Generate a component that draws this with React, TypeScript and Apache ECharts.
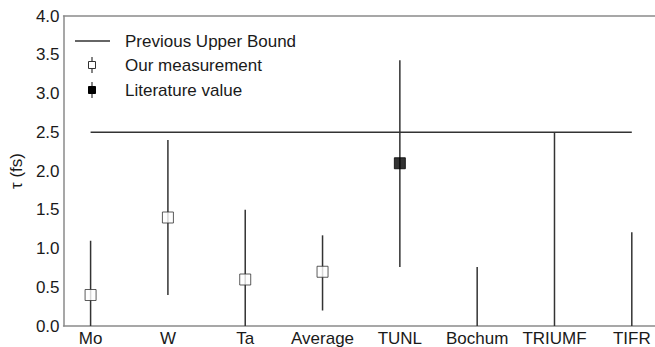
import React, { useEffect, useRef } from "react";
import * as echarts from "echarts";

const categories = ["Mo", "W", "Ta", "Average", "TUNL", "Bochum", "TRIUMF", "TIFR"];
// [index, value]
const ourValues = [
  [0, 0.4],
  [1, 1.4],
  [2, 0.6],
  [3, 0.7],
];
const literatureValues = [[4, 2.1]];
// [index, lower, upper]
const errorRanges = [
  [0, 0.0, 1.1],
  [1, 0.4, 2.4],
  [2, 0.0, 1.5],
  [3, 0.2, 1.17],
  [4, 0.76, 3.43],
  [5, 0.0, 0.76],
  [6, 0.0, 2.5],
  [7, 0.0, 1.21],
];
const upperBound = [
  [0, 2.5],
  [7, 2.5],
];
const yTicks = [0, 0.5, 1, 1.5, 2, 2.5, 3, 3.5, 4];

const FONT = "Liberation Sans, Arial, sans-serif";
const DARK = "#333333";
const SPINE = "#8a8a8a";
const TEXT = "#1a1a1a";

export default function App() {
  const ref = useRef<HTMLDivElement>(null);
  useEffect(() => {
    if (!ref.current) return;
    const chart = echarts.init(ref.current, null, { renderer: "svg" });
    chart.setOption({
      animation: false,
      backgroundColor: "#ffffff",
      grid: { left: 59, top: 16, right: 0, bottom: 20, containLabel: false },
      xAxis: [
        {
          type: "value",
          min: -0.35,
          max: 7.3,
          interval: 0.05,
          splitLine: { show: false },
          axisTick: { show: false },
          axisLine: { show: true, onZero: false, lineStyle: { color: SPINE, width: 1.5 } },
          axisLabel: {
            customValues: categories.map((_, i) => i),
            formatter: (v: number) => categories[Math.round(v)] ?? "",
            color: TEXT,
            fontSize: 17,
            fontFamily: FONT,
            margin: 4,
          },
        },
        {
          type: "value",
          position: "top",
          min: -0.35,
          max: 7.3,
          interval: 0.05,
          splitLine: { show: false },
          axisTick: { show: false },
          axisLabel: { show: false },
          axisLine: { show: true, onZero: false, lineStyle: { color: SPINE, width: 1.5 } },
        },
      ],
      yAxis: {
        type: "value",
        min: 0,
        max: 4,
        interval: 0.5,
        name: "τ (fs)",
        nameLocation: "middle",
        nameGap: 38,
        nameTextStyle: { color: TEXT, fontSize: 17, fontFamily: FONT },
        splitLine: { show: false },
        axisTick: { show: false },
        axisLine: { show: true, onZero: false, lineStyle: { color: SPINE, width: 1.5 } },
        axisLabel: {
          customValues: yTicks,
          formatter: (v: number) => v.toFixed(1),
          color: TEXT,
          fontSize: 17,
          fontFamily: FONT,
          margin: 4,
        },
      },
      series: [
        {
          type: "line",
          data: upperBound,
          symbol: "none",
          lineStyle: { color: DARK, width: 1.5 },
          z: 2,
        },
        {
          type: "custom",
          data: errorRanges,
          renderItem: (params: any, api: any) => {
            const x = api.value(0);
            const p1 = api.coord([x, api.value(1)]);
            const p2 = api.coord([x, api.value(2)]);
            return {
              type: "line",
              shape: { x1: p1[0], y1: p1[1], x2: p2[0], y2: p2[1] },
              style: { stroke: DARK, lineWidth: 1.5 },
            };
          },
          z: 3,
        },
        {
          type: "scatter",
          data: ourValues,
          symbol: "rect",
          symbolSize: 11,
          itemStyle: { color: "#ffffff", borderColor: DARK, borderWidth: 1 },
          z: 5,
        },
        {
          type: "scatter",
          data: literatureValues,
          symbol: "rect",
          symbolSize: 11,
          itemStyle: { color: "#000000", borderColor: "#000000", borderWidth: 1 },
          z: 5,
        },
      ],
      graphic: [
        {
          type: "line",
          shape: { x1: 75, y1: 41, x2: 110, y2: 41 },
          style: { stroke: DARK, lineWidth: 1.5 },
        },
        {
          type: "text",
          x: 125,
          y: 41,
          style: { text: "Previous Upper Bound", fill: TEXT, fontSize: 17, fontFamily: FONT, textVerticalAlign: "middle" },
        },
        {
          type: "line",
          shape: { x1: 92, y1: 57, x2: 92, y2: 73 },
          style: { stroke: DARK, lineWidth: 1.2 },
        },
        {
          type: "rect",
          shape: { x: 88.5, y: 61.5, width: 7, height: 7 },
          style: { fill: "#fff", stroke: DARK, lineWidth: 1 },
        },
        {
          type: "text",
          x: 125,
          y: 65,
          style: { text: "Our measurement", fill: TEXT, fontSize: 17, fontFamily: FONT, textVerticalAlign: "middle" },
        },
        {
          type: "line",
          shape: { x1: 92, y1: 82, x2: 92, y2: 98 },
          style: { stroke: DARK, lineWidth: 1.2 },
        },
        {
          type: "rect",
          shape: { x: 88.5, y: 86.5, width: 7, height: 7 },
          style: { fill: "#000", stroke: "#000", lineWidth: 1 },
        },
        {
          type: "text",
          x: 125,
          y: 90,
          style: { text: "Literature value", fill: TEXT, fontSize: 17, fontFamily: FONT, textVerticalAlign: "middle" },
        },
      ],
    });
    return () => chart.dispose();
  }, []);
  return <div ref={ref} style={{ width: 655, height: 347, position: "absolute", left: 0, top: 0 }} />;
}
